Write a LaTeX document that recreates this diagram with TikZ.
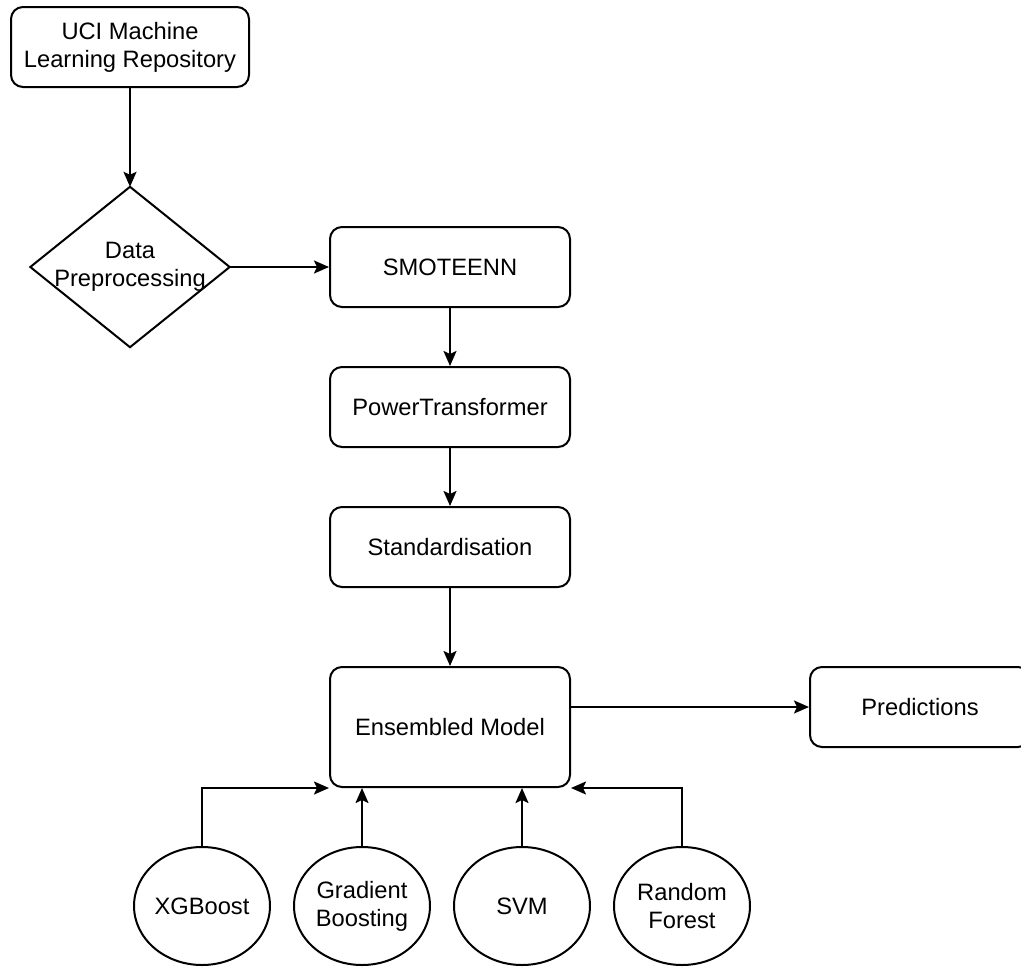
\documentclass[tikz,border=0pt]{standalone}
\usepackage{fontspec}
\setmainfont{Liberation Sans}
\usetikzlibrary{arrows.meta,calc,shapes.geometric}
\begin{document}
\begin{tikzpicture}[x=1pt,y=-1pt,
  every node/.style={font=\fontsize{23.7}{28}\selectfont, align=center, inner sep=0pt},
  box/.style={draw, line width=2pt, rounded corners=12pt, minimum width=240pt, minimum height=80pt},
  model/.style={draw, line width=2pt, ellipse, minimum width=136pt, minimum height=118pt},
  conn/.style={line width=2pt, -{Stealth[length=15pt,width=13pt,inset=3pt]}}
]
\useasboundingbox (0,0) rectangle (1021,967);
\fill[white] (0,0) rectangle (1021,967);
\node[box, minimum width=238pt] (uci) at (130,47) {UCI Machine\\Learning Repository};
\node[minimum width=199pt, minimum height=160pt] (dp) at (130,267) {Data\\Preprocessing};
\draw[line width=2pt, line join=miter] (dp.north) -- (dp.east) -- (dp.south) -- (dp.west) -- cycle;
\node[box] (smote) at (450,267) {SMOTEENN};
\node[box] (power) at (450,407) {PowerTransformer};
\node[box] (std) at (450,547) {Standardisation};
\node[box, minimum height=120pt] (ens) at (450,727) {Ensembled Model};
\node[box, minimum width=220pt] (pred) at (920,707) {Predictions};
\node[model] (xgb) at (202,906) {XGBoost};
\node[model] (gb) at (362,906) {Gradient\\Boosting};
\node[model] (svm) at (522,906) {SVM};
\node[model] (rf) at (682,906) {Random\\Forest};
\draw[conn] (uci.south) -- (dp.north);
\draw[conn] (dp.east) -- (smote.west);
\draw[conn] (smote.south) -- (power.north);
\draw[conn] (power.south) -- (std.north);
\draw[conn] (std.south) -- (ens.north);
\draw[conn] (ens.east |- pred.west) -- (pred.west);
\draw[conn] (xgb.north) |- (ens.south west);
\draw[conn] (gb.north) -- (gb.north |- ens.south);
\draw[conn] (svm.north) -- (svm.north |- ens.south);
\draw[conn] (rf.north) |- (ens.south east);
\end{tikzpicture}
\end{document}
